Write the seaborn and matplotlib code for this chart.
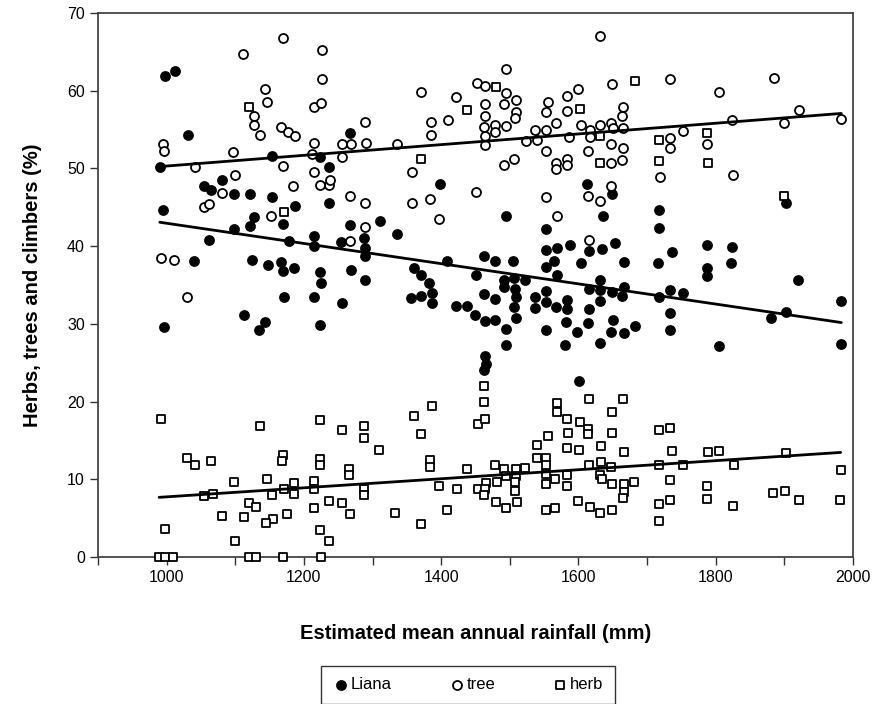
import numpy as np
import matplotlib
matplotlib.use("Agg")
import matplotlib.pyplot as plt
from matplotlib.ticker import MultipleLocator
import seaborn as sns

# --- данные (осадки, мм / доля, %) ---

liana_rain = [
    997, 1012, 1031, 1154, 990, 1055, 1065, 1098, 1122, 1153,
    1080, 995, 1098, 1122, 1127, 1170, 1062, 1178, 1040, 1125,
    1148, 1167, 1170, 1171, 1113, 1144, 1134, 996, 1267, 1224,
    1237, 1398, 1187, 1237, 1311, 1267, 1335, 1214, 1215, 1254,
    1288, 1289, 1289, 1185, 1224, 1225, 1268, 1289, 1409, 1360,
    1370, 1382, 1386, 1371, 1356, 1386, 1214, 1256, 1224, 1421,
    1438, 1450, 1451, 1613, 1649, 1494, 1636, 1718, 1717, 1553,
    1462, 1479, 1505, 1552, 1569, 1587, 1564, 1552, 1569, 1604,
    1615, 1634, 1653, 1666, 1716, 1492, 1492, 1506, 1522, 1508,
    1463, 1478, 1509, 1506, 1509, 1537, 1537, 1553, 1553, 1568,
    1583, 1583, 1615, 1632, 1632, 1632, 1649, 1666, 1664, 1717,
    1615, 1464, 1479, 1494, 1552, 1582, 1598, 1614, 1650, 1648,
    1666, 1683, 1495, 1581, 1632, 1464, 1466, 1463, 1601, 1902,
    1736, 1788, 1824, 1788, 1788, 1823, 1920, 1734, 1752, 1983,
    1734, 1902, 1881, 1734, 1805, 1983,
]
liana_pct = [
    61.9, 62.5, 54.3, 51.6, 50.2, 47.8, 47.2, 46.7, 46.7, 46.3,
    48.5, 44.7, 42.2, 42.6, 43.8, 42.9, 40.8, 40.6, 38.1, 38.2,
    37.6, 37.9, 36.8, 33.4, 31.2, 30.2, 29.2, 29.6, 54.6, 51.5,
    50.2, 48.0, 45.2, 45.5, 43.2, 42.7, 41.6, 41.3, 40.0, 40.5,
    41.1, 39.7, 38.7, 37.2, 36.7, 35.3, 36.9, 35.7, 38.1, 37.2,
    36.3, 35.2, 34.0, 33.6, 33.3, 32.7, 33.4, 32.7, 29.9, 32.3,
    32.3, 31.1, 36.3, 48.0, 46.7, 43.9, 43.9, 44.7, 42.3, 42.2,
    38.7, 38.1, 38.1, 39.5, 39.8, 40.2, 38.1, 37.3, 36.3, 37.8,
    39.4, 39.6, 40.4, 37.9, 37.8, 35.7, 34.7, 35.9, 35.6, 34.5,
    33.9, 33.2, 33.4, 32.2, 30.8, 33.4, 32.1, 34.2, 32.8, 32.2,
    33.1, 31.9, 34.5, 35.6, 34.3, 32.9, 34.1, 34.7, 33.6, 33.5,
    31.9, 30.4, 30.5, 29.3, 29.2, 30.3, 29.0, 30.1, 30.5, 28.9,
    28.8, 29.7, 27.3, 27.3, 27.6, 25.9, 24.9, 24.1, 22.6, 45.5,
    39.3, 40.1, 39.9, 37.2, 36.2, 37.8, 35.7, 34.4, 34.0, 32.9,
    31.4, 31.5, 30.8, 29.2, 27.2, 27.4,
]

tree_rain = [
    1170, 1111, 1144, 1146, 1128, 1127, 1136, 1167, 1177, 995,
    996, 1096, 1042, 1169, 1099, 1184, 1080, 1055, 1061, 1152,
    992, 1011, 1030, 1227, 1227, 1215, 1225, 1289, 1187, 1214,
    1256, 1268, 1290, 1336, 1212, 1256, 1214, 1224, 1237, 1238,
    1370, 1421, 1452, 1385, 1410, 1385, 1358, 1451, 1267, 1289,
    1358, 1383, 1397, 1289, 1267, 1632, 1495, 1464, 1649, 1733,
    1495, 1509, 1492, 1464, 1555, 1583, 1600, 1509, 1552, 1583,
    1665, 1464, 1507, 1664, 1462, 1478, 1478, 1494, 1464, 1464,
    1568, 1553, 1537, 1603, 1617, 1631, 1648, 1650, 1665, 1523,
    1539, 1586, 1617, 1648, 1665, 1553, 1614, 1492, 1506, 1567,
    1568, 1584, 1584, 1648, 1664, 1719, 1647, 1552, 1614, 1631,
    1569, 1615, 1885, 1805, 1922, 1824, 1900, 1983, 1752, 1734,
    1734, 1787, 1825,
]
tree_pct = [
    66.8, 64.7, 60.2, 58.6, 56.7, 55.6, 54.3, 55.3, 54.7, 53.2,
    52.2, 52.1, 50.2, 50.3, 49.1, 47.7, 46.9, 45.0, 45.4, 43.9,
    38.5, 38.2, 33.5, 65.2, 61.5, 57.9, 58.4, 56.0, 54.2, 53.3,
    53.2, 53.2, 53.3, 53.2, 51.9, 51.5, 49.5, 47.9, 47.9, 48.5,
    59.9, 59.2, 61.0, 56.0, 56.2, 54.3, 49.5, 47.0, 46.5, 45.6,
    45.6, 46.1, 43.5, 42.5, 40.7, 67.0, 62.8, 60.6, 60.9, 61.5,
    59.7, 58.8, 58.3, 58.3, 58.5, 59.3, 60.2, 57.3, 57.3, 57.4,
    57.9, 56.8, 56.5, 56.7, 55.3, 55.6, 54.7, 55.4, 54.2, 53.0,
    55.9, 55.0, 54.9, 55.6, 54.9, 55.6, 55.9, 55.2, 55.2, 53.5,
    53.7, 54.0, 54.1, 53.1, 52.6, 52.2, 52.2, 50.4, 51.2, 50.7,
    49.9, 51.2, 50.5, 50.7, 51.1, 48.9, 47.7, 46.3, 46.4, 45.8,
    43.9, 40.8, 61.7, 59.9, 57.5, 56.2, 55.9, 56.4, 54.8, 53.9,
    52.6, 53.2, 49.1,
]

# квадраты в верхней части графика (в линию тренда herb не входят)
herb_high_rain = [1120, 1171, 1438, 1370, 1480, 1682, 1602, 1632, 1632, 1717,
                  1717, 1787, 1789, 1900]
herb_high_pct = [57.9, 44.4, 57.5, 51.2, 60.5, 61.3, 57.6, 54.2, 50.7, 53.6,
                 51.0, 54.5, 50.7, 46.5]

herb_rain = [
    992, 1136, 1029, 1042, 1064, 1169,
    1168, 1098, 1146, 1055, 1067, 1154, 1171, 1120, 1130, 1081,
    1113, 1155, 1145, 1175, 997, 1099, 989, 997, 1009, 1120,
    1130, 1169, 1462, 1462, 1224, 1255, 1288, 1288, 1309, 1360,
    1387, 1370, 1453, 1224, 1224, 1266, 1266, 1383, 1383, 1438,
    1186, 1186, 1215, 1215, 1288, 1288, 1397, 1423, 1453, 1214,
    1236, 1255, 1267, 1333, 1408, 1370, 1224, 1236, 1225, 1464,
    1569, 1569, 1615, 1665, 1584, 1602, 1649, 1614, 1614, 1555,
    1585, 1649, 1539, 1584, 1601, 1633, 1666, 1718, 1539, 1553,
    1553, 1479, 1492, 1509, 1522, 1615, 1633, 1648, 1717, 1494,
    1509, 1552, 1584, 1632, 1634, 1465, 1481, 1508, 1552, 1566,
    1584, 1649, 1666, 1681, 1464, 1462, 1508, 1666, 1665, 1480,
    1494, 1511, 1552, 1566, 1600, 1617, 1632, 1649, 1717, 1717,
    1734, 1736, 1734, 1734, 1753, 1789, 1805, 1826, 1902, 1982,
    1788, 1787, 1825, 1883, 1901, 1922, 1981,
]
herb_pct = [
    17.8, 16.9, 12.8, 11.9, 12.4, 13.1,
    12.4, 9.6, 10.0, 7.8, 8.1, 8.0, 8.7, 7.0, 6.4, 5.3,
    5.1, 4.9, 4.4, 5.5, 3.6, 2.0, 0.0, 0.0, 0.0, 0.0,
    0.0, 0.0, 22.0, 20.0, 17.6, 16.4, 16.8, 15.3, 13.8, 18.1,
    19.4, 15.8, 17.1, 12.6, 11.8, 11.3, 10.5, 12.5, 11.6, 11.3,
    9.5, 8.1, 9.8, 8.8, 8.8, 8.0, 9.1, 8.8, 8.7, 6.3,
    7.2, 7.0, 5.5, 5.6, 6.1, 4.2, 3.5, 2.0, 0.0, 17.7,
    19.8, 18.6, 20.3, 20.3, 17.7, 17.4, 18.6, 16.5, 15.8, 15.6,
    15.9, 15.9, 14.4, 14.0, 13.8, 14.3, 13.5, 16.3, 12.8, 12.8,
    11.9, 11.8, 11.3, 11.3, 11.4, 11.9, 12.2, 11.6, 11.8, 10.4,
    10.4, 10.7, 10.5, 10.6, 10.0, 9.5, 9.6, 9.6, 9.4, 10.0,
    9.2, 9.4, 9.4, 9.7, 8.7, 8.0, 8.5, 8.4, 7.6, 7.1,
    6.3, 7.1, 6.1, 6.3, 7.2, 6.4, 5.7, 6.1, 6.8, 4.6,
    16.6, 13.6, 9.9, 7.3, 11.8, 13.5, 13.6, 11.9, 13.4, 11.2,
    9.2, 7.5, 6.6, 8.3, 8.5, 7.3, 7.3,
]

# --- оформление ---
sns.set_style("ticks")
plt.rcParams['font.family'] = ['Liberation Sans', 'DejaVu Sans']
plt.rcParams['text.color'] = 'black'
plt.rcParams['axes.labelcolor'] = 'black'
plt.rcParams['xtick.color'] = 'black'
plt.rcParams['ytick.color'] = 'black'

fig = plt.figure(figsize=(8.83, 7.04), dpi=100)
ax = fig.add_axes([0.111, 0.2088, 0.855, 0.7727])

series = [
    ("Liana", liana_rain, liana_pct, "o", "black", 42),
    ("tree", tree_rain, tree_pct, "o", "white", 42),
    ("herb", herb_rain, herb_pct, "s", "white", 32),
]

pt_style = dict(edgecolors="black", linewidths=1.3, alpha=1, clip_on=False, zorder=3)

for name, xs, ys, mk, face, size in series:
    sns.regplot(x=np.array(xs), y=np.array(ys), ax=ax, ci=None, marker=mk,
                label=name,
                scatter_kws=dict(s=size, facecolors=face, **pt_style),
                line_kws=dict(color="black", lw=2.0, zorder=4))

sns.scatterplot(x=herb_high_rain, y=herb_high_pct, ax=ax, marker="s", s=32,
                facecolors="white", legend=False, **pt_style)

ax.set_xlim(900, 2000)
ax.set_ylim(0, 70)
ax.set_xticks([1000, 1200, 1400, 1600, 1800, 2000])
ax.xaxis.set_minor_locator(MultipleLocator(100))
ax.yaxis.set_major_locator(MultipleLocator(10))
ax.tick_params(axis="both", which="both", direction="out", length=6,
               width=1, color="#333333", labelsize=11.5)
for sp in ax.spines.values():
    sp.set_visible(True)
    sp.set_color("#444444")
    sp.set_linewidth(1.3)

ax.set_xlabel("Estimated mean annual rainfall (mm)", fontsize=14.5,
              fontweight="bold", labelpad=28)
ax.set_ylabel("Herbs, trees and climbers (%)", fontsize=14.5,
              fontweight="bold", labelpad=18)

handles, labels = ax.get_legend_handles_labels()
leg = fig.legend(handles, labels, loc="center", bbox_to_anchor=(0.53, 0.027),
                 ncol=3, frameon=True, fancybox=False, fontsize=12,
                 handletextpad=0.1, columnspacing=3.4, borderpad=0.7,
                 borderaxespad=0.3, handlelength=1.0)
leg.get_frame().set_edgecolor("black")
leg.get_frame().set_linewidth(1.0)

fig.savefig("out.png", dpi=100)
